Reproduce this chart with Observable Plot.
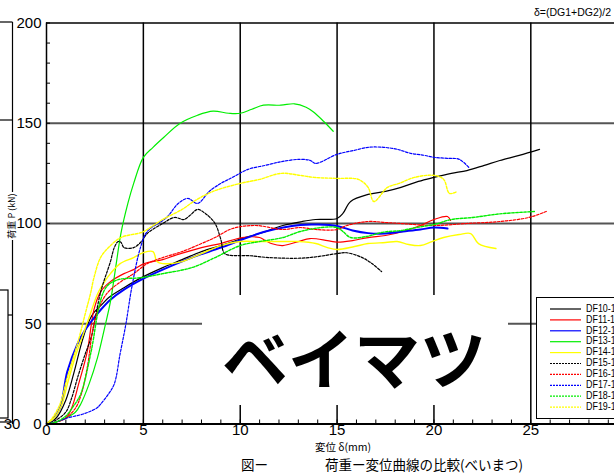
<!DOCTYPE html>
<html><head><meta charset="utf-8">
<script src="https://cdn.jsdelivr.net/npm/d3@7"></script>
<script src="https://cdn.jsdelivr.net/npm/@observablehq/plot@0.6"></script>
<style>
body{margin:0;background:#fff;}
#chart{position:relative;width:614px;height:476px;overflow:hidden;}
</style></head><body><div id="chart"></div>
<script>
// ---- data ----
const seriesNames = ["DF10-1","DF11-1","DF12-1","DF13-1","DF14-1","DF15-1","DF16-1","DF17-1","DF18-1","DF19-1"];
const DF10 = [[0,0],[0.5,3],[1.0,12],[1.4,25],[1.8,40],[2.1,49],[2.4,55],[2.8,59],[3.2,63],[4.0,68],[4.9,73],[6.0,78],[7.0,82],[8.0,86],[9.0,89],[10.1,92.5],[11.0,95],[12.2,99],[13.2,101],[13.9,102],[15.0,102.5],[15.3,105],[15.7,111],[16.6,114.5],[17.5,116],[18.3,118],[19.2,121],[20.0,123],[20.9,125],[21.7,126.4],[22.6,129],[23.4,131.4],[24.4,134],[25.45,137]];
const DF11 = [[0,0],[0.5,1],[1.0,3],[1.3,8],[1.66,20],[2.1,36],[2.45,57],[2.8,66],[3.3,71],[4.0,75],[4.5,77],[5.05,80],[6.0,82],[6.6,84],[8.0,88],[9.0,90],[10.1,93],[11.0,93],[11.3,91.5],[11.6,90],[12.2,89],[13.0,91],[13.6,92.5],[14.5,91.5],[15.0,90.7],[15.8,91.5],[16.6,93],[17.5,94],[18.4,96],[19.3,99],[20.0,102],[20.7,103.5],[20.86,101.5]];
const DF12 = [[0,0],[0.3,2],[0.7,8],[1.07,26],[1.6,40],[2.0,47],[2.3,51],[2.8,57],[3.3,62],[4.0,67],[4.9,72],[6.0,77],[7.5,83],[9.0,88],[10.1,92],[11.3,96],[13.1,99.3],[14.0,99.5],[15.0,98.8],[15.8,96.5],[16.6,95.2],[17.5,95],[18.4,96],[19.3,97],[20.0,98],[20.7,97.5]];
const DF13 = [[0,0],[0.5,1],[1.0,3],[1.5,6],[1.77,10],[2.2,20],[2.63,33],[3.0,48],[3.3,61],[3.6,80],[3.84,95],[4.2,110],[4.5,120],[5.0,133],[5.5,138],[6.06,143],[6.9,150],[7.8,154],[8.6,156],[9.4,155],[10.0,155],[10.6,157],[11.2,159],[12.1,159],[12.8,159.7],[13.4,158],[13.8,155.5],[14.3,151],[14.8,146]];
const DF14 = [[0,0],[0.4,3],[0.8,10],[1.08,20],[1.5,34],[1.94,46],[2.3,56],[2.64,65],[3.0,71],[3.3,75],[3.8,80],[4.5,83],[5.0,85.5],[5.5,86],[5.7,81],[6.0,80],[7.0,81],[8.0,85],[9.0,89],[10.0,91],[11.0,91],[12.2,91],[13.0,91],[13.9,90],[14.5,88],[15.0,87],[15.9,88.5],[16.6,90],[17.5,90.5],[18.1,91],[18.7,89.5],[19.3,89],[19.9,91],[20.5,93],[21.3,94.5],[21.9,95],[22.3,90],[23.2,87.5]];
const DF15 = [[0,0],[0.5,2],[1.0,6],[1.3,13],[1.6,23],[2.0,35],[2.3,43],[2.8,66],[3.3,81],[3.5,88],[3.7,91],[3.85,90.5],[4.0,88],[4.5,88],[4.9,91],[5.2,95],[6.0,100],[6.6,103],[7.1,102],[7.4,104],[7.8,107],[8.2,105],[8.7,100],[9.0,92],[9.2,85],[10.0,84],[10.4,84],[11.5,83],[13.1,82.7],[14.0,83.5],[15.0,85],[15.5,85.4],[16.3,83],[16.8,80],[17.3,76]];
const DF16 = [[0,0],[0.5,1],[1.0,3],[1.5,8],[1.8,15],[2.1,28],[2.45,50],[2.8,60],[3.2,66],[3.84,71],[4.5,75],[5.2,80],[6.0,83],[7.0,86],[8.0,90],[8.7,93],[9.6,97.5],[10.8,99],[12.2,97],[13.1,98],[13.9,97],[15.0,97],[15.5,99],[16.6,101],[17.5,100.5],[18.3,100],[20.0,99],[21.7,100],[23.4,101],[24.9,103],[25.8,106]];
const DF17 = [[0,0],[0.5,1],[1.07,3],[1.9,5],[2.6,8],[2.8,10],[3.2,15],[3.5,20],[3.8,35],[4.1,50],[4.4,68],[4.85,88],[5.2,96],[6.2,103],[6.8,110],[7.3,112.5],[7.8,110],[8.4,116],[9.0,120],[9.6,123],[10.4,127],[11.3,129],[12.2,131],[13.1,132],[13.6,131.5],[13.9,130],[15.0,134.5],[15.9,136.5],[16.6,138],[17.4,138],[18.1,137],[18.8,135],[19.5,134],[20.0,133],[20.7,132.5],[21.3,132],[21.8,128]];
const DF18 = [[0,0],[0.5,1],[1.0,4],[1.4,9],[1.77,15],[2.3,36],[2.8,62],[3.15,69],[3.7,72],[4.9,73],[6.0,75],[7.5,78],[8.7,83],[10.0,89],[11.0,91],[12.2,93],[13.1,96],[14.2,98],[15.0,98],[15.3,96],[15.7,93],[16.5,93.5],[17.4,95.7],[18.3,96.5],[19.1,98],[20.0,99.5],[20.9,102],[22.0,103],[23.4,104.8],[25.2,106]];
const DF19 = [[0,0],[0.3,3],[0.7,10],[1.07,23],[1.6,40],[2.0,55],[2.27,65],[2.45,73],[2.79,83],[3.2,88],[3.84,93],[4.9,95.5],[5.2,97],[6.0,102],[7.0,107],[7.6,111],[8.6,116],[10.0,120],[11.0,122],[12.1,125],[13.1,124],[13.8,123],[15.0,122.5],[16.1,122],[16.6,118],[16.9,111],[17.6,118],[18.2,120],[19.0,123],[20.0,124],[20.5,122],[20.8,115],[21.2,116]];
const seriesData = [DF10,DF11,DF12,DF13,DF14,DF15,DF16,DF17,DF18,DF19];
const xTicks = [0,5,10,15,20,25];
const yTicks = [0,50,100,150,200];
const xGrid = [5,10,15,20,25];
const yGrid = [50,100,150];
const xMinor = [0,1,2,3,4,5,6,7,8,9,10,11,12,13,14,15,16,17,18,19,20,21,22,23,24,25,26,27,28,29];
const yMinor = [0,10,20,30,40,50,60,70,80,90,100,110,120,130,140,150,160,170,180,190,200];

// ---- styles ----
const seriesColors = ["#000000","#ff0000","#0000ff","#00ee00","#ffff00","#000000","#ff0000","#0000ff","#00ee00","#ffff00"];
const seriesDashed = [false,false,false,false,false,true,true,true,true,true];
const seriesWidth = [1.2,1.2,2,1.2,1.4,1.2,1.2,1.2,1.4,1.4];

const lineMarks = seriesData.map((d, i) => Plot.line(d, {
  x: p => p[0], y: p => p[1],
  stroke: seriesColors[i], strokeWidth: seriesWidth[i],
  strokeDasharray: seriesDashed[i] ? "2.5,1.5" : null,
  curve: "catmull-rom"
}));

const plot = Plot.plot({
  width: 614, height: 476,
  marginLeft: 46, marginRight: 0, marginTop: 22.5, marginBottom: 52.5,
  style: {fontFamily: "Liberation Sans, Arial, sans-serif", fontSize: "15px", background: "#fff", overflow: "hidden"},
  x: {domain: [0, 29.32]},
  y: {domain: [0, 200]},
  marks: [
    Plot.ruleY(yGrid, {stroke: "#555", strokeWidth: 2}),
    Plot.ruleX(xGrid, {stroke: "#000", strokeWidth: 1.5}),
    Plot.axisX({ticks: xMinor, tickSize: -4, tickFormat: () => "", stroke: "#000"}),
    Plot.axisY({ticks: yMinor, tickSize: -4, tickFormat: () => "", stroke: "#000"}),
    Plot.axisX({ticks: xTicks, tickSize: 0, tickPadding: 0, fill: "#000"}),
    Plot.axisY({ticks: yTicks, tickSize: 0, tickPadding: 5, fill: "#000"}),
    ...lineMarks,
    Plot.ruleY([200], {stroke: "#000", strokeWidth: 1.5}),
    Plot.ruleX([0], {stroke: "#000", strokeWidth: 1.5}),
    Plot.ruleY([0], {stroke: "#000", strokeWidth: 2})
  ]
});
document.getElementById("chart").appendChild(plot);

// ---- annotations ----
const svg = d3.select(plot);
const jp = "'Noto Sans CJK JP', sans-serif";

// cut-off neighbouring chart at far left
const L = svg.append("g").attr("stroke", "#000").attr("stroke-width", 1.2).attr("fill", "none");
L.append("line").attr("x1", 12.5).attr("x2", 12.5).attr("y1", 22).attr("y2", 192);
L.append("line").attr("x1", 12.5).attr("x2", 12.5).attr("y1", 240).attr("y2", 424);
L.append("line").attr("x1", 0).attr("x2", 12.5).attr("y1", 22).attr("y2", 22);
L.append("line").attr("x1", 0).attr("x2", 12.5).attr("y1", 120).attr("y2", 120);
L.append("line").attr("x1", 8).attr("x2", 12.5).attr("y1", 315).attr("y2", 315);
L.append("rect").attr("x", -2).attr("y", 290).attr("width", 10).attr("height", 128);
L.append("line").attr("x1", 0).attr("x2", 12.5).attr("y1", 422).attr("y2", 422);
svg.append("text").attr("x", 12).attr("y", 425).attr("text-anchor", "middle").attr("dominant-baseline", "middle")
  .style("font", "15px 'Liberation Sans', Arial, sans-serif").attr("fill", "#000").text("30");

// y axis title
svg.append("text").attr("transform", "translate(13,216) rotate(-90)").attr("text-anchor", "middle")
  .attr("dominant-baseline", "middle").style("font", `9px ${jp}`).attr("fill", "#000").text("荷重 P (kN)");

// x axis title
svg.append("text").attr("x", 343).attr("y", 448).attr("text-anchor", "middle").attr("dominant-baseline", "middle")
  .style("font", `10.5px ${jp}`).attr("fill", "#000").text("変位 δ(mm)");

// caption
svg.append("text").attr("x", 241).attr("y", 466).attr("text-anchor", "start").attr("dominant-baseline", "middle")
  .style("font", `13.5px ${jp}`).attr("fill", "#000").text("図ー");
svg.append("text").attr("x", 325).attr("y", 466).attr("text-anchor", "start").attr("dominant-baseline", "middle")
  .style("font", `13.5px ${jp}`).attr("fill", "#000").text("荷重ー変位曲線の比較(べいまつ)");

// note top right
svg.append("text").attr("x", 611).attr("y", 13).attr("text-anchor", "end").attr("dominant-baseline", "middle")
  .style("font", "10.5px 'Liberation Sans', Arial, sans-serif").attr("fill", "#000").text("δ=(DG1+DG2)/2");

// big label box
svg.append("rect").attr("x", 202).attr("y", 295).attr("width", 306).attr("height", 110).attr("fill", "#fff");
svg.append("text").attr("x", 354).attr("y", 384).attr("text-anchor", "middle")
  .style("font", `700 66px ${jp}`).attr("fill", "#000").text("ベイマツ");

// legend
const lg = svg.append("g");
lg.append("rect").attr("x", 536.5).attr("y", 297.5).attr("width", 100).attr("height", 121)
  .attr("fill", "#fff").attr("stroke", "#000").attr("stroke-width", 1);
seriesNames.forEach((name, i) => {
  const yy = 309 + i * 10.9;
  lg.append("line").attr("x1", 550).attr("x2", 581).attr("y1", yy).attr("y2", yy)
    .attr("stroke", seriesColors[i]).attr("stroke-width", 1.2)
    .attr("stroke-dasharray", seriesDashed[i] ? "2,1" : null);
  lg.append("text").attr("transform", `translate(586,${yy}) scale(0.85,1)`).attr("text-anchor", "start")
    .attr("dominant-baseline", "middle")
    .style("font", "10.5px 'Liberation Sans', Arial, sans-serif").attr("fill", "#000").text(name);
});
</script></body></html>
